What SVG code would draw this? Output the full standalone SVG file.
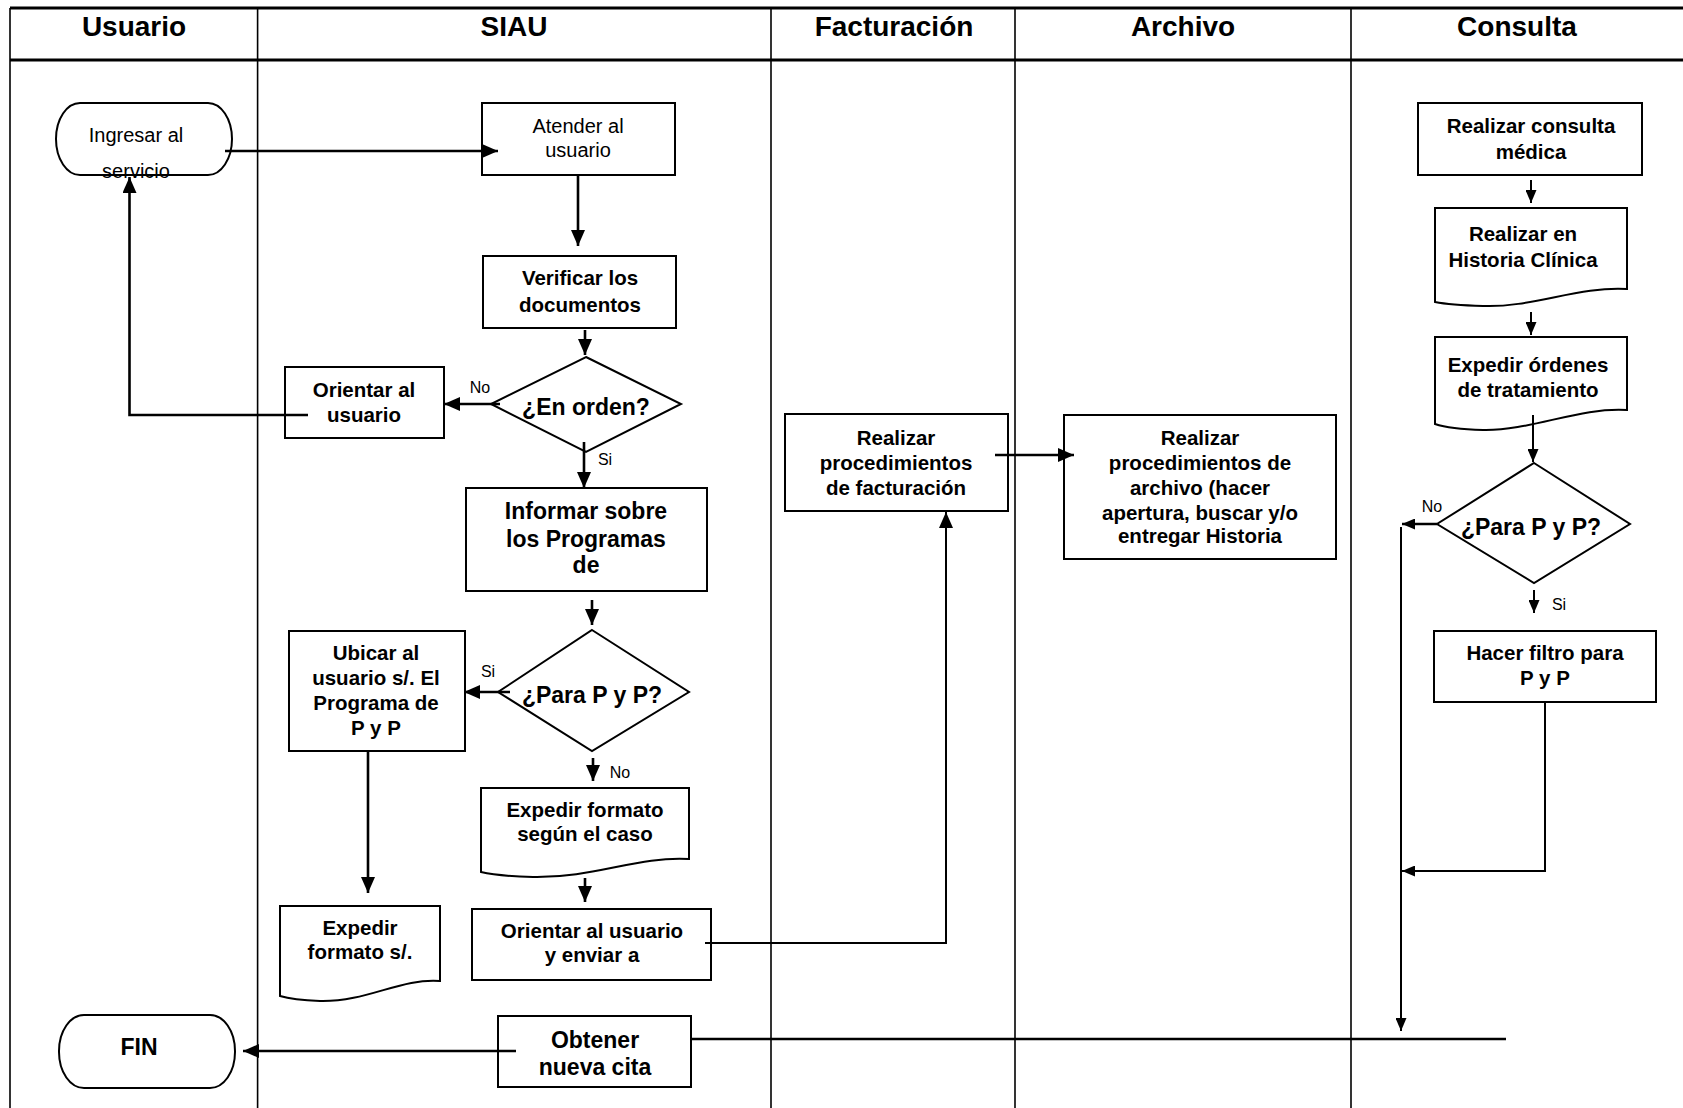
<svg xmlns="http://www.w3.org/2000/svg" width="1683" height="1108" viewBox="0 0 1683 1108">
<style>
.lane{stroke:#000;stroke-width:1.6;fill:none}
.frame{stroke:#000;stroke-width:3;fill:none}
.box{stroke:#000;stroke-width:2;fill:#fff}
.conn{stroke:#000;stroke-width:2.6;fill:none}
.thin{stroke:#000;stroke-width:2;fill:none}
text{font-family:"Liberation Sans",Arial,sans-serif;fill:#000;text-anchor:middle}
.hd{font-size:28px;font-weight:bold}
.b{font-size:20.5px;font-weight:bold}
.bl{font-size:23px;font-weight:bold}
.r{font-size:20px}
.lb{font-size:16px}
</style>
<defs>
<marker id="ah" markerWidth="16" markerHeight="14" refX="16" refY="7" orient="auto" markerUnits="userSpaceOnUse"><path d="M0,0 L16,7 L0,14 z" fill="#000"/></marker>
<marker id="as" markerWidth="13" markerHeight="11" refX="13" refY="5.5" orient="auto" markerUnits="userSpaceOnUse"><path d="M0,0 L13,5.5 L0,11 z" fill="#000"/></marker>
</defs>

<g id="lanes">
<line class="frame" x1="10" y1="8" x2="1683" y2="8"/>
<line class="frame" x1="10" y1="60" x2="1683" y2="60"/>
<line class="lane" x1="10" y1="8" x2="10" y2="1108"/>
<line class="lane" x1="257.6" y1="8" x2="257.6" y2="1108"/>
<line class="lane" x1="771" y1="8" x2="771" y2="1108"/>
<line class="lane" x1="1015" y1="8" x2="1015" y2="1108"/>
<line class="lane" x1="1351" y1="8" x2="1351" y2="1108"/>
<text class="hd" x="134" y="36">Usuario</text>
<text class="hd" x="514" y="36">SIAU</text>
<text class="hd" x="894" y="36">Facturación</text>
<text class="hd" x="1183" y="36">Archivo</text>
<text class="hd" x="1517" y="36">Consulta</text>
</g>

<g id="ingresar">
<rect class="box" x="56" y="103" width="176" height="72" rx="24" ry="36"/>
<text class="r" x="136" y="142">Ingresar al</text>
<text class="r" x="136" y="178">servicio</text>
</g>
<g id="atender">
<rect class="box" x="482" y="103" width="193" height="72"/>
<text class="r" x="578" y="133">Atender al</text>
<text class="r" x="578" y="157">usuario</text>
</g>
<g id="verificar">
<rect class="box" x="483" y="256" width="193" height="72"/>
<text class="b" x="580" y="285">Verificar los</text>
<text class="b" x="580" y="312">documentos</text>
</g>
<g id="en-orden">
<polygon class="box" points="586,357 681,404 586,452 491,404"/>
<text class="bl" x="586" y="415">¿En orden?</text>
</g>
<g id="orientar">
<rect class="box" x="285" y="367" width="159" height="71"/>
<text class="b" x="364" y="397">Orientar al</text>
<text class="b" x="364" y="422">usuario</text>
</g>
<g id="informar">
<rect class="box" x="466" y="488" width="241" height="103"/>
<text class="bl" x="586" y="519">Informar sobre</text>
<text class="bl" x="586" y="547">los Programas</text>
<text class="bl" x="586" y="573">de</text>
</g>
<g id="para-siau">
<polygon class="box" points="592,630 689,692 592,751 498,692"/>
<text class="bl" x="592" y="703">¿Para P y P?</text>
</g>
<g id="ubicar">
<rect class="box" x="289" y="631" width="176" height="120"/>
<text class="b" x="376" y="660">Ubicar al</text>
<text class="b" x="376" y="685">usuario s/. El</text>
<text class="b" x="376" y="710">Programa de</text>
<text class="b" x="376" y="735">P y P</text>
</g>
<g id="expedir-caso">
<path class="box" d="M481,788 H689 V859 C637,856 595,878 533,877 Q498,876 481,872 Z"/>
<text class="b" x="585" y="817">Expedir formato</text>
<text class="b" x="585" y="841">según el caso</text>
</g>
<g id="expedir-sp">
<path class="box" d="M280,906 H440 V981 C400,978 368,1002 320,1001 Q293,1000 280,996 Z"/>
<text class="b" x="360" y="935">Expedir</text>
<text class="b" x="360" y="959">formato s/.</text>
</g>
<g id="orientar-enviar">
<rect class="box" x="472" y="909" width="239" height="71"/>
<text class="b" x="592" y="938">Orientar al usuario</text>
<text class="b" x="592" y="962">y enviar a</text>
</g>
<g id="fin">
<rect class="box" x="59" y="1015" width="176" height="73" rx="25" ry="36"/>
<text class="bl" x="139" y="1055">FIN</text>
</g>
<g id="obtener">
<rect class="box" x="498" y="1016" width="193" height="71"/>
<text class="bl" x="595" y="1048">Obtener</text>
<text class="bl" x="595" y="1075">nueva cita</text>
</g>
<g id="facturacion">
<rect class="box" x="785" y="414" width="223" height="97"/>
<text class="b" x="896" y="445">Realizar</text>
<text class="b" x="896" y="470">procedimientos</text>
<text class="b" x="896" y="495">de facturación</text>
</g>
<g id="archivo">
<rect class="box" x="1064" y="415" width="272" height="144"/>
<text class="b" x="1200" y="445">Realizar</text>
<text class="b" x="1200" y="470">procedimientos de</text>
<text class="b" x="1200" y="495">archivo (hacer</text>
<text class="b" x="1200" y="520">apertura, buscar y/o</text>
<text class="b" x="1200" y="543">entregar Historia</text>
</g>
<g id="consulta">
<rect class="box" x="1418" y="103" width="224" height="72"/>
<text class="b" x="1531" y="133">Realizar consulta</text>
<text class="b" x="1531" y="159">médica</text>
</g>
<g id="historia">
<path class="box" d="M1435,208 H1627 V289 C1579,286 1531,308 1483,306 Q1450,305 1435,302 Z"/>
<text class="b" x="1523" y="241">Realizar en</text>
<text class="b" x="1523" y="267">Historia Clínica</text>
</g>
<g id="ordenes">
<path class="box" d="M1435,337 H1627 V410 C1579,407 1531,431 1483,430 Q1450,429 1435,424 Z"/>
<text class="b" x="1528" y="372">Expedir órdenes</text>
<text class="b" x="1528" y="397">de tratamiento</text>
</g>
<g id="para-consulta">
<polygon class="box" points="1534,463 1630,524 1534,583 1437,524"/>
<text class="bl" x="1531" y="535">¿Para P y P?</text>
</g>
<g id="filtro">
<rect class="box" x="1434" y="631" width="222" height="71"/>
<text class="b" x="1545" y="660">Hacer filtro para</text>
<text class="b" x="1545" y="685">P y P</text>
</g>

<g id="connectors">
<line class="conn" x1="225" y1="151" x2="498" y2="151" marker-end="url(#ah)"/>
<line class="conn" x1="578" y1="175" x2="578" y2="246" marker-end="url(#ah)"/>
<line class="conn" x1="585" y1="330" x2="585" y2="355" marker-end="url(#ah)"/>
<line class="conn" x1="500" y1="404" x2="444" y2="404" marker-end="url(#ah)"/>
<polyline class="conn" points="308,415 129.5,415 129.5,177" marker-end="url(#ah)"/>
<line class="conn" x1="584" y1="442" x2="584" y2="488" marker-end="url(#ah)"/>
<line class="conn" x1="592" y1="600" x2="592" y2="625" marker-end="url(#ah)"/>
<line class="conn" x1="510" y1="692" x2="464" y2="692" marker-end="url(#ah)"/>
<line class="conn" x1="593" y1="758" x2="593" y2="781" marker-end="url(#ah)"/>
<line class="conn" x1="368" y1="751" x2="368" y2="893" marker-end="url(#ah)"/>
<line class="conn" x1="585" y1="878" x2="585" y2="902" marker-end="url(#ah)"/>
<polyline class="thin" points="705,943 946,943 946,512" marker-end="url(#ah)"/>
<line class="conn" x1="995" y1="455" x2="1074" y2="455" marker-end="url(#ah)"/>
<line class="thin" x1="1531" y1="180" x2="1531" y2="203" marker-end="url(#as)"/>
<line class="thin" x1="1531" y1="312" x2="1531" y2="335" marker-end="url(#as)"/>
<line class="thin" x1="1533" y1="415" x2="1533" y2="462" marker-end="url(#as)"/>
<line class="conn" x1="1437" y1="524" x2="1402" y2="524" marker-end="url(#as)"/>
<line class="thin" x1="1401" y1="527" x2="1401" y2="1031" marker-end="url(#as)"/>
<line class="thin" x1="1534" y1="590" x2="1534" y2="613" marker-end="url(#as)"/>
<polyline class="thin" points="1545,702 1545,871 1402,871" marker-end="url(#as)"/>
<line class="conn" x1="516" y1="1051" x2="243" y2="1051" marker-end="url(#ah)"/>
<line class="conn" x1="691" y1="1039" x2="1506" y2="1039"/>
<text class="lb" x="480" y="393">No</text>
<text class="lb" x="605" y="465">Si</text>
<text class="lb" x="488" y="677">Si</text>
<text class="lb" x="620" y="778">No</text>
<text class="lb" x="1432" y="512">No</text>
<text class="lb" x="1559" y="610">Si</text>
</g>
</svg>
